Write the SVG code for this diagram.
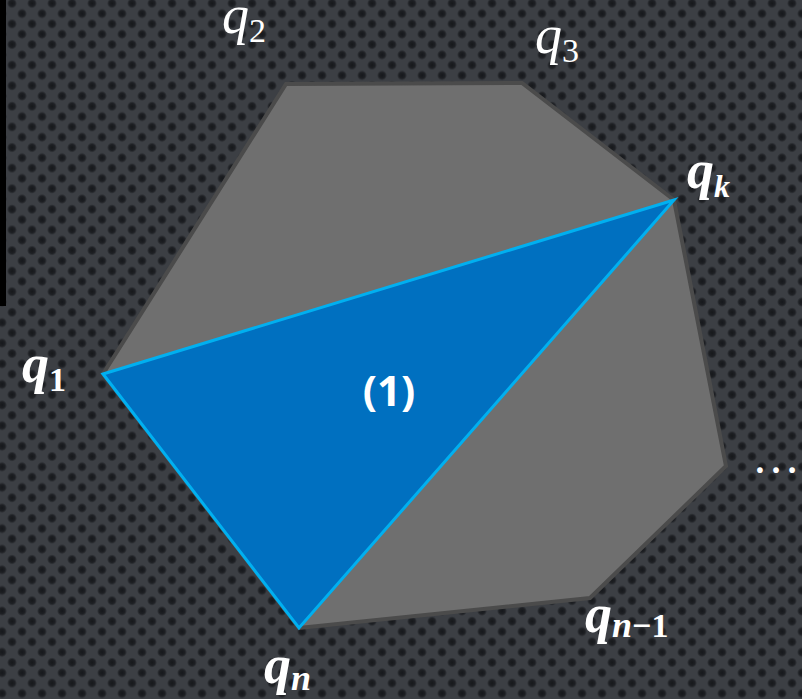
<svg xmlns="http://www.w3.org/2000/svg" width="802" height="699" viewBox="0 0 802 699">
<defs>
<radialGradient id="dg">
<stop offset="0" stop-color="#16181b"/>
<stop offset="0.6" stop-color="#1e2024"/>
<stop offset="1" stop-color="#3b3e43"/>
</radialGradient>
<pattern id="dots" width="20" height="20.6" patternUnits="userSpaceOnUse" x="2" y="-7">
<rect width="20" height="20.6" fill="#3c3f44"/>
<circle cx="10" cy="10.3" r="5" fill="url(#dg)"/>
<circle cx="0" cy="0" r="5" fill="url(#dg)"/>
<circle cx="20" cy="0" r="5" fill="url(#dg)"/>
<circle cx="0" cy="20.6" r="5" fill="url(#dg)"/>
<circle cx="20" cy="20.6" r="5" fill="url(#dg)"/>
</pattern>
<style>
.m{font-family:"Liberation Serif","DejaVu Serif",serif;font-style:italic;fill:#ffffff}
.b{font-weight:bold}
.sub{font-style:normal}
.subi{font-style:italic}
</style>
</defs>
<rect width="802" height="699" fill="url(#dots)"/>
<rect x="0" y="0" width="6" height="306" fill="#000000"/>
<g id="polygon">
<polygon points="103,374 286,84 522,83 674,200 726,466 590,598 299,628" fill="#6f6f6f" stroke="#4b4b4b" stroke-width="4" stroke-linejoin="miter"/>
</g>
<g id="triangle">
<polygon points="103,374 674,200 299,628" fill="#0070c0" stroke="#00b0f0" stroke-width="3" stroke-linejoin="miter"/>
<text x="389" y="406" font-family="'Open Sans','Noto Sans',sans-serif" font-weight="bold" font-size="42" fill="#ffffff" text-anchor="middle">(1)</text>
</g>
<g id="labels">
<text class="m" x="222" y="33" font-size="54">q<tspan class="sub" font-size="34" dy="9">2</tspan></text>
<text class="m" x="535" y="53" font-size="54">q<tspan class="sub" font-size="34" dy="9">3</tspan></text>
<text class="m b" x="22" y="382" font-size="54">q<tspan class="sub" font-size="34" dy="9">1</tspan></text>
<text class="m b" x="687" y="188" font-size="54">q<tspan class="subi" font-size="32" dy="9">k</tspan></text>
<text class="m b" x="264" y="683" font-size="54">q<tspan class="subi" font-size="36" dy="7">n</tspan></text>
<text class="m b" x="585" y="632" font-size="54">q<tspan class="subi" font-size="36" dy="5">n</tspan><tspan class="sub" font-size="34">−1</tspan></text>
<text x="752" y="473" font-family="'Liberation Serif',serif" font-size="48" fill="#ffffff">…</text>
</g>
</svg>
